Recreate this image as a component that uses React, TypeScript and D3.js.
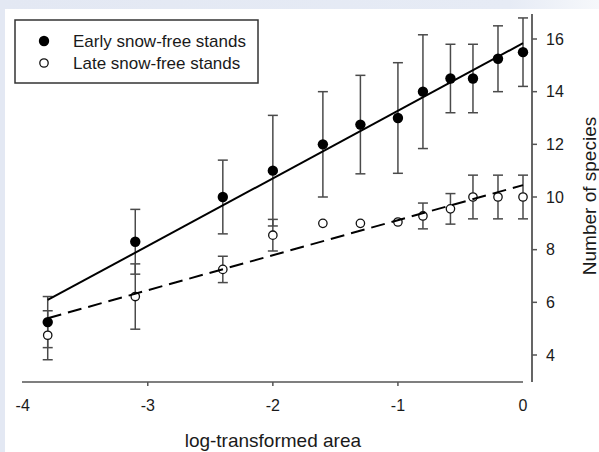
import React from "react";
import * as d3 from "d3";

const xValues = [-3.8, -3.1, -2.4, -2.0, -1.6, -1.3, -1.0, -0.8, -0.58, -0.4, -0.2, 0];
const earlyMean = [5.25, 8.3, 10.0, 11.0, 12.0, 12.75, 13.0, 14.0, 14.5, 14.5, 15.25, 15.5];
const earlyErr = [0.97, 1.23, 1.4, 2.1, 2.0, 1.87, 2.1, 2.16, 1.3, 1.3, 1.25, 1.3];
const lateMean = [4.75, 6.22, 7.25, 8.55, 9.0, 9.0, 9.05, 9.28, 9.55, 10.0, 10.0, 10.0];
const lateErr = [0.93, 1.24, 0.5, 0.6, 0, 0, 0, 0.49, 0.58, 0.83, 0.83, 0.83];

const earlyFit = [15.84, 2.566]; // intercept, slope
const lateFit = [10.45, 1.33];
const fitRange = [-3.8, 0];

const xTicks = [-4, -3, -2, -1, 0];
const yTicks = [4, 6, 8, 10, 12, 14, 16];
const legendLabels = ["Early snow-free stands", "Late snow-free stands"];
const xTitle = "log-transformed area";
const yTitle = "Number of species";

const W = 599;
const H = 452;
const FONT = "'Liberation Sans', Arial, Helvetica, sans-serif";

export default function App() {
  const x = d3.scaleLinear().domain([-4, 0]).range([22.7, 523]);
  const y = d3.scaleLinear().domain([4, 16]).range([355, 39]);
  const xAxisY = 382;
  const yAxisX = 532;
  const capW = 5;
  const barColor = "#4a4a4a";

  const fitLine = (fit: number[]) =>
    d3.line<number>()
      .x((d) => x(d))
      .y((d) => y(fit[0] + fit[1] * d))(fitRange) as string;

  const errorBars = (means: number[], errs: number[], key: string) =>
    xValues.map((xv, i) => {
      if (!errs[i]) return null;
      const cx = x(xv);
      const y1 = y(means[i] + errs[i]);
      const y2 = y(means[i] - errs[i]);
      return (
        <g key={key + i} stroke={barColor} strokeWidth={1.5}>
          <line x1={cx} x2={cx} y1={y1} y2={y2} />
          <line x1={cx - capW} x2={cx + capW} y1={y1} y2={y1} />
          <line x1={cx - capW} x2={cx + capW} y1={y2} y2={y2} />
        </g>
      );
    });

  return (
    <div style={{ position: "fixed", left: 0, top: 0, width: W, height: H }}>
      <svg width={W} height={H} style={{ display: "block" }}>
        <defs>
          <linearGradient id="topfade" x1="0" x2="1" y1="0" y2="0">
            <stop offset="0" stopColor="#e3e8f3" />
            <stop offset="0.85" stopColor="#e6ebf5" />
            <stop offset="1" stopColor="#f6f8fb" />
          </linearGradient>
        </defs>
        <rect x={0} y={0} width={W} height={H} fill="url(#topfade)" />
        <rect x={5} y={9} width={W - 5} height={H - 9} fill="#ffffff" />

        {/* error bars */}
        {errorBars(earlyMean, earlyErr, "e")}
        {errorBars(lateMean, lateErr, "l")}

        {/* points */}
        {xValues.map((xv, i) => (
          <circle key={"ep" + i} cx={x(xv)} cy={y(earlyMean[i])} r={5.2} fill="#000" />
        ))}
        {xValues.map((xv, i) => (
          <circle
            key={"lp" + i}
            cx={x(xv)}
            cy={y(lateMean[i])}
            r={4.2}
            fill="#fff"
            stroke="#111"
            strokeWidth={1.3}
          />
        ))}

        {/* regression lines */}
        <path d={fitLine(earlyFit)} fill="none" stroke="#000" strokeWidth={2} />
        <path
          d={fitLine(lateFit)}
          fill="none"
          stroke="#000"
          strokeWidth={2}
          strokeDasharray="14 7"
        />

        {/* x axis */}
        <line x1={22} x2={523} y1={xAxisY} y2={xAxisY} stroke="#555" strokeWidth={1.5} />
        {xTicks.map((t) => (
          <g key={"xt" + t}>
            {t > -4 && t < 0 && (
              <line x1={x(t)} x2={x(t)} y1={xAxisY} y2={xAxisY + 4} stroke="#555" strokeWidth={1.5} />
            )}
            <text
              x={x(t)}
              y={411}
              textAnchor="middle"
              fontFamily={FONT}
              fontSize={16}
              fill="#1a1a1a"
            >
              {t}
            </text>
          </g>
        ))}
        <text
          x={(x(-4) + x(0)) / 2}
          y={447}
          textAnchor="middle"
          fontFamily={FONT}
          fontSize={19}
          fill="#1a1a1a"
        >
          {xTitle}
        </text>

        {/* y axis (right) */}
        <line x1={yAxisX} x2={yAxisX} y1={14} y2={382} stroke="#555" strokeWidth={1.8} />
        {yTicks.map((t) => (
          <g key={"yt" + t}>
            <line x1={yAxisX} x2={yAxisX + 5} y1={y(t)} y2={y(t)} stroke="#555" strokeWidth={1.5} />
            <text
              x={546}
              y={y(t) + 5.7}
              textAnchor="start"
              fontFamily={FONT}
              fontSize={16}
              fill="#1a1a1a"
            >
              {t}
            </text>
          </g>
        ))}
        <text
          transform={`translate(596,196) rotate(-90)`}
          textAnchor="middle"
          fontFamily={FONT}
          fontSize={19}
          fill="#1a1a1a"
        >
          {yTitle}
        </text>

        {/* legend */}
        <rect x={15} y={20} width={243} height={63} fill="#fff" stroke="#333" strokeWidth={1.5} />
        <circle cx={44} cy={41} r={5.2} fill="#000" />
        <circle cx={44} cy={63} r={4.2} fill="#fff" stroke="#111" strokeWidth={1.3} />
        <text x={73} y={47} fontFamily={FONT} fontSize={17} fill="#1a1a1a">
          {legendLabels[0]}
        </text>
        <text x={73} y={69} fontFamily={FONT} fontSize={17} fill="#1a1a1a">
          {legendLabels[1]}
        </text>
      </svg>
    </div>
  );
}
